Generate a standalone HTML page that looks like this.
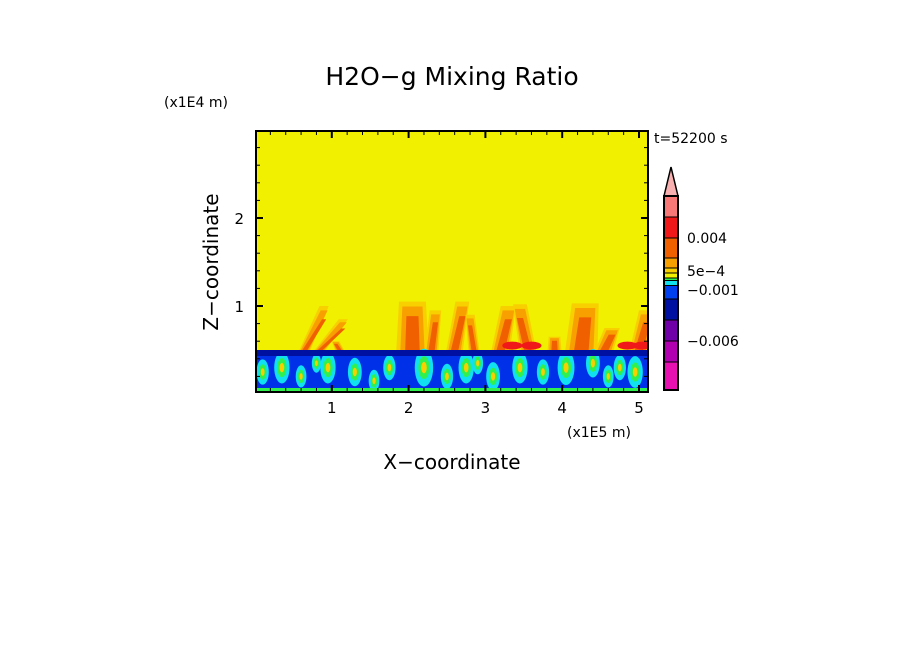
<!DOCTYPE html>
<html><head><meta charset="utf-8"><style>
body{margin:0;background:#fff;}
svg text{font-family:"DejaVu Sans","Liberation Sans",sans-serif;fill:#000;}
</style></head><body>
<svg id="chart" width="904" height="654" viewBox="0 0 904 654" xmlns="http://www.w3.org/2000/svg">
<rect width="904" height="654" fill="#fff"/>
<text x="452" y="85" font-size="25" text-anchor="middle">H2O−g Mixing Ratio</text>
<text x="164" y="107" font-size="14">(x1E4 m)</text>
<text x="654" y="143" font-size="14">t=52200 s</text>
<text x="567" y="437" font-size="14">(x1E5 m)</text>
<text x="452" y="469" font-size="20" text-anchor="middle">X−coordinate</text>
<text transform="translate(218,262) rotate(-90)" font-size="20" text-anchor="middle">Z−coordinate</text>
<defs><clipPath id="pc"><rect x="256" y="131" width="392" height="261"/></clipPath></defs>
<g id="field" clip-path="url(#pc)"></g>
<g id="axes"></g>
<g id="cbar"></g>
</svg>
<script>
const xTicks=[1,2,3,4,5];
const yTicks=[1,2];
const cbColors=["#f8b0b0","#f87878","#f01818","#f06000","#f8a000","#f8d000","#f0f000","#30f050","#10e0f0","#0040f0","#0010a0","#7000a8","#b000b0","#e810b0"];
const cbLabels=["0.004","5e-4","-0.001","-0.006"];
// plumes: x-center (1E5 m), top (1E4 m), lean, width
const plumeX=[0.65,0.85,1.1,2.05,2.3,2.6,2.85,3.2,3.55,3.9,4.25,4.55,5.0];
const plumeTop=[1.0,0.85,0.6,1.05,0.95,1.05,0.9,1.0,1.02,0.65,1.03,0.75,0.95];
const plumeW=[0.12,0.12,0.1,0.35,0.15,0.18,0.12,0.2,0.18,0.15,0.35,0.2,0.2];
const plumeLean=[0.25,0.3,-0.05,0,0.05,0.1,-0.05,0.1,-0.1,0,0.05,0.1,0.1];
// lower-layer cyan/green blobs
const blobX=[0.1,0.35,0.6,0.8,0.95,1.3,1.55,1.75,2.2,2.5,2.75,2.9,3.1,3.45,3.75,4.05,4.4,4.6,4.75,4.95];
const blobZ=[0.25,0.3,0.2,0.35,0.3,0.25,0.15,0.3,0.3,0.2,0.3,0.35,0.2,0.3,0.25,0.3,0.35,0.2,0.3,0.25];
const blobR=[0.08,0.1,0.07,0.06,0.1,0.09,0.07,0.08,0.12,0.08,0.1,0.07,0.09,0.1,0.08,0.11,0.09,0.07,0.08,0.1];
const redX=[3.35,3.6,4.85,5.05];
const svgNS="http://www.w3.org/2000/svg";
const x0=256,x1=648,y0=392,yTop=131;
const xs=v=>255+v*76.8;
const ys=v=>394-v*88;
function el(t,a,p){const e=document.createElementNS(svgNS,t);for(const k in a)e.setAttribute(k,a[k]);p.appendChild(e);return e;}
const F=document.getElementById('field');
let r=el('rect',{x:x0,y:yTop,width:392,height:261,fill:'#f0f000'},F);


plumeX.forEach((px,i)=>{
 const t=plumeTop[i],w=plumeW[i],l=plumeLean[i];
 [['#f8d000',1],['#f8a000',0.75],['#f06000',0.45]].forEach(([c,f],j)=>{
  const top=0.5+(t-0.5)*(j==0?1:j==1?0.9:0.7);
  const pts=[[px-w*f*0.6,0.5],[px+w*f*0.6,0.5],[px+l+w*f*0.5,top],[px+l-w*f*0.5,top]].map(p=>xs(p[0])+','+ys(p[1])).join(' ');
  const pg=el('polygon',{points:pts,fill:c},F);
  
  
 });
});
redX.forEach((px,i)=>{
 const e=el('ellipse',{cx:xs(px),cy:ys(0.55),rx:10,ry:4,fill:'#f01818'},F);
 
 
});
let b=el('rect',{x:x0,y:ys(0.5),width:392,height:y0-ys(0.5),fill:'#0030e8'},F);


blobX.forEach((bx,i)=>{
 const z=blobZ[i],rr=blobR[i];
 [['#10e0f0',1],['#30f050',0.6],['#f8d000',0.3]].forEach(([c,f])=>{
  const e=el('ellipse',{cx:xs(bx),cy:ys(z),rx:rr*76.8*f,ry:rr*88*1.8*f,fill:c},F);
  
  
 });
});
let d=el('rect',{x:x0,y:ys(0.5),width:392,height:6,fill:'#0010a0'},F);


let g=el('rect',{x:x0,y:388,width:392,height:4,fill:'#30f050'},F);


const A=document.getElementById('axes');
let fr=el('rect',{x:x0,y:yTop,width:392,height:261,fill:'none',stroke:'#000','stroke-width':2},A);


for(let v=0.2;v<5.1;v+=0.2){const X=xs(v),big=Math.abs(v-Math.round(v))<0.01;
 el('line',{x1:X,x2:X,y1:y0,y2:y0-(big?7:4),stroke:'#000','stroke-width':big?2:1},A);
 el('line',{x1:X,x2:X,y1:yTop,y2:yTop+(big?7:4),stroke:'#000','stroke-width':big?2:1},A);}
for(let v=0.2;v<2.96;v+=0.2){const Y=ys(v),big=Math.abs(v-Math.round(v))<0.01;
 el('line',{x1:x0,x2:x0+(big?7:4),y1:Y,y2:Y,stroke:'#000','stroke-width':big?2:1},A);
 el('line',{x1:x1,x2:x1-(big?7:4),y1:Y,y2:Y,stroke:'#000','stroke-width':big?2:1},A);}
xTicks.forEach(v=>{const t=el('text',{x:xs(v),y:413,'font-size':15,'text-anchor':'middle'},A);t.textContent=v;
 
 });
yTicks.forEach(v=>{const t=el('text',{x:244,y:ys(v)+6,'font-size':15,'text-anchor':'end'},A);t.textContent=v;
 
 });
const C=document.getElementById('cbar');
const cbTop=196,cbX=664,cbW=14;
const segH=[21,21,20,10,5,5,2.5,5,13.5,21,21,21,28];
let yy=cbTop;
cbColors.forEach((c,i)=>{
 if(i==0){const tri=el('polygon',{points:`${cbX},${cbTop} ${cbX+cbW},${cbTop} ${cbX+cbW/2},167`,fill:c,stroke:'#000','stroke-width':1.5},C);
  
  return;}
 const h=segH[i-1];
 const rr=el('rect',{x:cbX,y:yy,width:cbW,height:h,fill:c,stroke:'#000','stroke-width':1},C);
 
 
 yy+=h;
});
const cbRect=el('rect',{x:cbX,y:cbTop,width:cbW,height:yy-cbTop,fill:'none',stroke:'#000','stroke-width':2},C);


const labY=[238,271,290,341];
cbLabels.forEach((s,i)=>{const t=el('text',{x:687,y:labY[i]+5,'font-size':14},C);t.textContent=s.replace('-','−');
 
 });
</script>
</body></html>
